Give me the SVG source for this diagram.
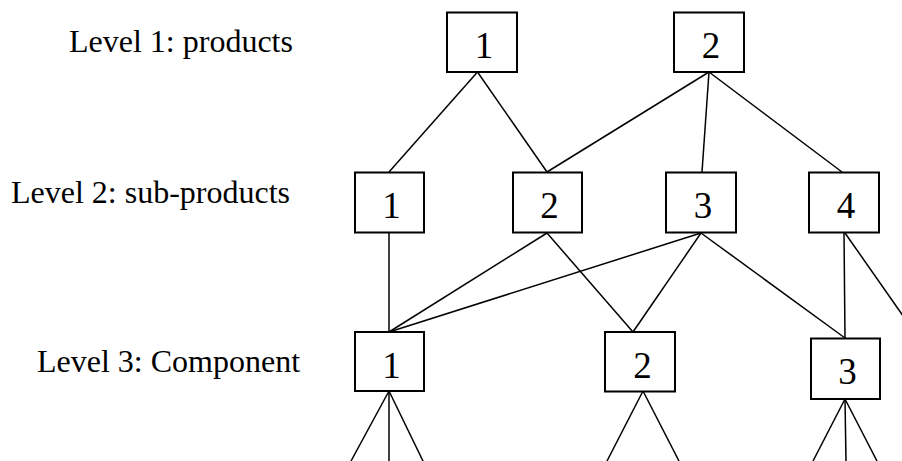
<svg xmlns="http://www.w3.org/2000/svg" width="902" height="461" viewBox="0 0 902 461">
<style>
.box{fill:#fff;stroke:#000;stroke-width:2}
.num{font-family:"Liberation Serif","Times New Roman",serif;font-size:37px;fill:#000;text-anchor:middle}
.lbl{font-family:"Liberation Serif","Times New Roman",serif;font-size:32px;fill:#000}
.con line{stroke:#000;stroke-width:1.5;fill:none}
</style>
<rect width="902" height="461" fill="#fff"/>
<g id="labels">
<text class="lbl" x="69" y="52">Level 1: products</text>
<text class="lbl" x="11" y="203">Level 2: sub-products</text>
<text class="lbl" x="37" y="372">Level 3: Component</text>
</g>
<g id="connectors" class="con">
<line x1="477.5" y1="72" x2="389" y2="172"/>
<line x1="477.5" y1="72" x2="547" y2="172"/>
<line x1="709" y1="72" x2="547" y2="172"/>
<line x1="709" y1="72" x2="702" y2="172"/>
<line x1="709" y1="72" x2="842" y2="172"/>
<line x1="389" y1="233" x2="389" y2="332"/>
<line x1="547" y1="233" x2="389" y2="332"/>
<line x1="547" y1="233" x2="633" y2="332"/>
<line x1="701" y1="233" x2="389" y2="332"/>
<line x1="701" y1="233" x2="633" y2="332"/>
<line x1="701" y1="233" x2="845" y2="338"/>
<line x1="844" y1="233" x2="845" y2="338"/>
<line x1="845" y1="233" x2="920" y2="340"/>
<line x1="389" y1="391" x2="351" y2="461"/>
<line x1="389" y1="391" x2="389" y2="461"/>
<line x1="389" y1="391" x2="423" y2="461"/>
<line x1="643" y1="391" x2="607" y2="461"/>
<line x1="643" y1="391" x2="679" y2="461"/>
<line x1="845" y1="399" x2="813" y2="461"/>
<line x1="845" y1="399" x2="846" y2="461"/>
<line x1="845" y1="399" x2="877" y2="461"/>
</g>
<g id="p1"><rect class="box" x="447" y="12.5" width="70" height="59.5"/><text class="num" x="484" y="57.5">1</text></g>
<g id="p2"><rect class="box" x="674" y="12.5" width="70" height="59.5"/><text class="num" x="711" y="57.5">2</text></g>
<g id="s1"><rect class="box" x="355" y="172.5" width="69" height="60"/><text class="num" x="391.5" y="218">1</text></g>
<g id="s2"><rect class="box" x="513" y="172.5" width="69" height="60"/><text class="num" x="549.5" y="218">2</text></g>
<g id="s3"><rect class="box" x="666" y="172.5" width="70" height="60"/><text class="num" x="703" y="218">3</text></g>
<g id="s4"><rect class="box" x="809" y="172.5" width="70" height="60"/><text class="num" x="846" y="218">4</text></g>
<g id="c1"><rect class="box" x="355" y="332" width="69" height="59"/><text class="num" x="391.5" y="377.5">1</text></g>
<g id="c2"><rect class="box" x="605" y="332" width="70" height="59.5"/><text class="num" x="642.5" y="377.5">2</text></g>
<g id="c3"><rect class="box" x="811" y="338.5" width="69" height="60.5"/><text class="num" x="847.5" y="384">3</text></g>
</svg>
